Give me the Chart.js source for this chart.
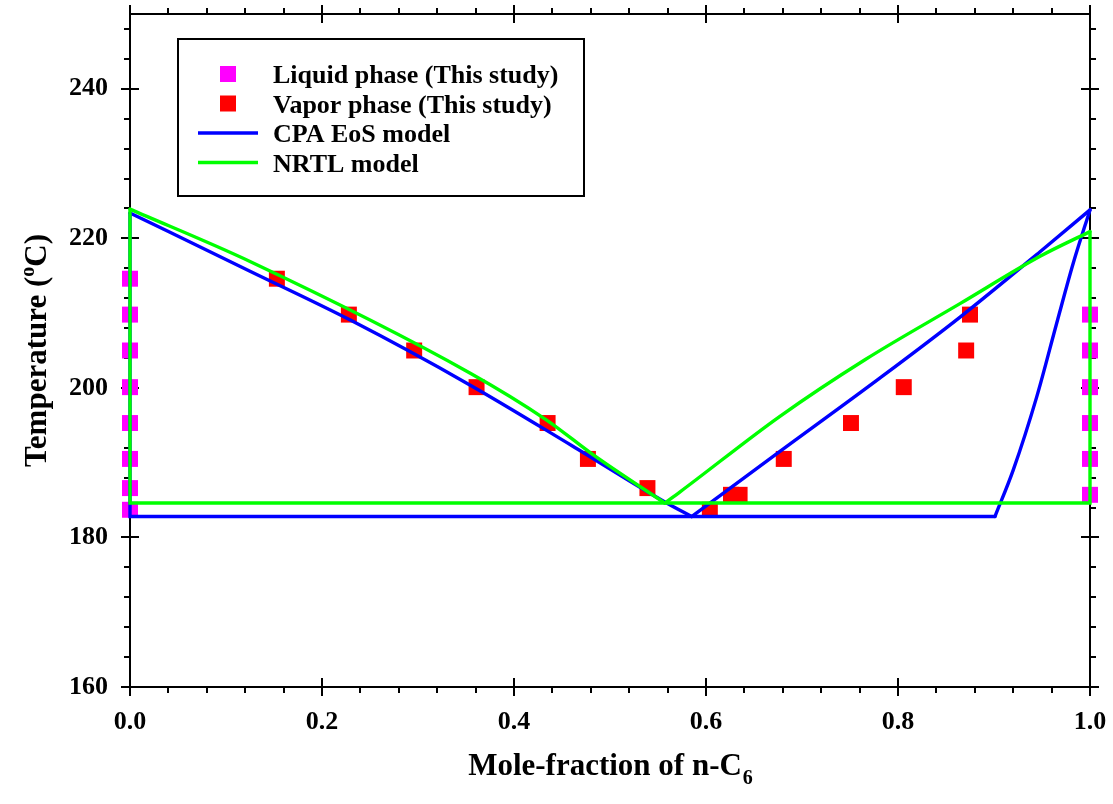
<!DOCTYPE html>
<html><head><meta charset="utf-8">
<script src="https://cdn.jsdelivr.net/npm/chart.js@4/dist/chart.umd.min.js"></script>
<style>html,body{margin:0;padding:0;background:#fff;} #wrap{width:1113px;height:804px;position:relative;}</style>
</head><body><div id="wrap"><canvas id="c"></canvas></div>
<script>
// ---- data ----
const liquidX = [0, 0, 0, 0, 0, 0, 0, 0, 1.0, 1.0, 1.0, 1.0, 1.0, 1.0];
const liquidT = [214.6, 209.8, 205.0, 200.1, 195.3, 190.5, 186.6, 183.7, 209.8, 205.0, 200.1, 195.3, 190.5, 185.7];
const vaporX = [0.153, 0.228, 0.296, 0.361, 0.435, 0.477, 0.539, 0.604, 0.626, 0.635, 0.681, 0.751, 0.806, 0.871, 0.875];
const vaporT = [214.6, 209.8, 205.0, 200.1, 195.3, 190.5, 186.6, 183.7, 185.7, 185.7, 190.5, 195.3, 200.1, 205.0, 209.8];
// CPA EoS model
const cpaEdgeX = [0.901, 0, 0];
const cpaEdgeT = [182.8, 182.8, 223.4];
const cpaLeftX = [0, 0.125, 0.229, 0.354, 0.46, 0.559, 0.585];
const cpaLeftT = [223.4, 215.6, 209.1, 200.4, 192.3, 184.6, 182.8];
const cpaRightX = [0.585, 0.677, 0.781, 0.865, 0.948, 1.0];
const cpaRightT = [182.8, 191.5, 201.3, 209.5, 218.2, 223.8];
const cpaBubbleX = [0.901, 0.920, 0.9445, 0.9653, 0.9826, 1.0];
const cpaBubbleT = [182.8, 189.0, 198.8, 208.65, 216.7, 223.8];
// NRTL model
const nrtlEdgeX = [0, 0, 1.0, 1.0];
const nrtlEdgeT = [223.9, 184.6, 184.6, 220.9];
const nrtlLeftX = [0, 0.125, 0.354, 0.434, 0.483, 0.557];
const nrtlLeftT = [223.9, 216.9, 202.0, 195.7, 191.0, 184.6];
const nrtlRightX = [0.557, 0.573, 0.677, 0.766, 0.865, 0.948, 1.0];
const nrtlRightT = [184.6, 186.1, 196.2, 203.8, 211.3, 217.6, 220.9];
const xTicks = [0, 0.2, 0.4, 0.6, 0.8, 1.0];
const yTicks = [160, 180, 200, 220, 240];
const seriesLabels = ['Liquid phase (This study)', 'Vapor phase (This study)', 'CPA EoS model', 'NRTL model'];

const pts = (xs, ys) => xs.map((x, i) => ({x: x, y: ys[i]}));
const SERIF = '"Liberation Serif", "Times New Roman", serif';
const BLUE = '#0000ff', GREEN = '#00ff00';

const axesPlugin = {
  id: 'axesBox',
  beforeDatasetsDraw(chart) {
    const {ctx, chartArea: a, scales: {x, y}} = chart;
    ctx.save();
    ctx.strokeStyle = '#000';
    ctx.lineWidth = 2;
    ctx.strokeRect(a.left, a.top, a.right - a.left, a.bottom - a.top);
    ctx.beginPath();
    for (let k = 0; k <= 25; k++) {
      const v = k * 0.04;
      const px = Math.round(x.getPixelForValue(v));
      const major = k % 5 === 0;
      if (major) {
        ctx.moveTo(px, a.bottom - 9); ctx.lineTo(px, a.bottom + 9);
        ctx.moveTo(px, a.top - 9); ctx.lineTo(px, a.top + 9);
      } else {
        ctx.moveTo(px, a.bottom); ctx.lineTo(px, a.bottom + 6);
        ctx.moveTo(px, a.top); ctx.lineTo(px, a.top - 6);
      }
    }
    for (let v = 160; v <= 250; v += 4) {
      const py = Math.round(y.getPixelForValue(v));
      const major = (v - 160) % 20 === 0;
      if (major) {
        ctx.moveTo(a.left - 9, py); ctx.lineTo(a.left + 9, py);
        ctx.moveTo(a.right - 9, py); ctx.lineTo(a.right + 9, py);
      } else {
        ctx.moveTo(a.left, py); ctx.lineTo(a.left - 6, py);
        ctx.moveTo(a.right, py); ctx.lineTo(a.right + 6, py);
      }
    }
    ctx.stroke();
    ctx.restore();
  },
  afterDraw(chart) {
    const {ctx, chartArea: a} = chart;
    ctx.save();
    ctx.fillStyle = '#000';
    const big = 'bold 31px ' + SERIF, small = 'bold 20px ' + SERIF;
    ctx.font = big;
    const t1 = 'Mole-fraction of n-C';
    const w1 = ctx.measureText(t1).width;
    ctx.font = small;
    const w2 = ctx.measureText('6').width;
    const cx = (a.left + a.right) / 2;
    let sx = cx - (w1 + w2) / 2;
    ctx.textBaseline = 'alphabetic';
    ctx.textAlign = 'left';
    ctx.font = big; ctx.fillText(t1, sx, 775);
    ctx.font = small; ctx.fillText('6', sx + w1 + 1, 784);
    ctx.translate(46, (a.top + a.bottom) / 2);
    ctx.rotate(-Math.PI / 2);
    ctx.font = big;
    const ya = 'Temperature (', yb = 'C)';
    const wa = ctx.measureText(ya).width, wb = ctx.measureText(yb).width;
    ctx.font = small;
    const wo = ctx.measureText('o').width;
    let s = -(wa + wo + wb) / 2;
    ctx.font = big; ctx.fillText(ya, s, 0);
    ctx.font = small; ctx.fillText('o', s + wa, -12);
    ctx.font = big; ctx.fillText(yb, s + wa + wo, 0);
    ctx.restore();

    ctx.save();
    const bx = 178, by = 39, bw = 406, bh = 157;
    ctx.fillStyle = '#fff';
    ctx.fillRect(bx, by, bw, bh);
    ctx.strokeStyle = '#000'; ctx.lineWidth = 2;
    ctx.strokeRect(bx, by, bw, bh);
    const rows = [74, 103.5, 133, 162.5];
    chart.data.datasets.filter(d => d.inLegend).forEach((d, i) => {
      const cy = rows[i];
      if (d.pointRadius > 0) {
        ctx.fillStyle = d.backgroundColor;
        ctx.fillRect(220, cy - 8, 16, 16);
      } else {
        ctx.strokeStyle = d.borderColor; ctx.lineWidth = 3.4;
        ctx.beginPath(); ctx.moveTo(198, cy); ctx.lineTo(258, cy); ctx.stroke();
      }
      ctx.fillStyle = '#000';
      ctx.font = 'bold 26px ' + SERIF;
      ctx.textAlign = 'left'; ctx.textBaseline = 'alphabetic';
      ctx.fillText(d.label, 273, cy + 9);
    });
    ctx.restore();
  }
};

function lineDs(label, xs, ys, color, smooth, order, inLegend) {
  return {label: label, data: pts(xs, ys), showLine: true, borderColor: color, backgroundColor: color,
    borderWidth: 3.4, pointRadius: 0, pointHoverRadius: 0, tension: smooth ? 0.4 : 0,
    cubicInterpolationMode: smooth ? 'monotone' : 'default', borderJoinStyle: 'miter', borderCapStyle: 'round',
    clip: false, order: order, inLegend: inLegend};
}

new Chart(document.getElementById('c'), {
  type: 'scatter',
  data: {
    datasets: [
      {label: seriesLabels[0], data: pts(liquidX, liquidT), pointStyle: 'rect', pointRadius: 11.3, pointHoverRadius: 11.3,
       backgroundColor: '#ff00ff', borderWidth: 0, showLine: false, clip: false, order: 4, inLegend: true},
      {label: seriesLabels[1], data: pts(vaporX, vaporT), pointStyle: 'rect', pointRadius: 11.3, pointHoverRadius: 11.3,
       backgroundColor: '#ff0000', borderWidth: 0, showLine: false, clip: false, order: 3, inLegend: true},
      lineDs(seriesLabels[2], cpaLeftX, cpaLeftT, BLUE, true, 2, true),
      lineDs(seriesLabels[3], nrtlLeftX, nrtlLeftT, GREEN, true, 1, true),
      lineDs(seriesLabels[2], cpaRightX, cpaRightT, BLUE, true, 2, false),
      lineDs(seriesLabels[2], cpaBubbleX, cpaBubbleT, BLUE, true, 2, false),
      lineDs(seriesLabels[2], cpaEdgeX, cpaEdgeT, BLUE, false, 2, false),
      lineDs(seriesLabels[3], nrtlRightX, nrtlRightT, GREEN, true, 1, false),
      lineDs(seriesLabels[3], nrtlEdgeX, nrtlEdgeT, GREEN, false, 1, false)
    ]
  },
  options: {
    responsive: true, maintainAspectRatio: false, animation: false,
    layout: {padding: {top: 14, right: 23, left: 0, bottom: 0}},
    plugins: {legend: {display: false}, tooltip: {enabled: false}},
    scales: {
      x: {
        type: 'linear', min: 0, max: 1,
        afterBuildTicks: s => { s.ticks = xTicks.map(v => ({value: v})); },
        afterFit: s => { s.height = 117; s.paddingLeft = 0; s.paddingRight = 0; },
        grid: {display: false, drawTicks: false}, border: {display: false},
        ticks: {padding: 20, color: '#000', font: {family: SERIF, size: 26, weight: 'bold'},
                callback: v => Number(v).toFixed(1), maxRotation: 0, autoSkip: false}
      },
      y: {
        type: 'linear', min: 160, max: 250,
        afterBuildTicks: s => { s.ticks = yTicks.map(v => ({value: v})); },
        afterFit: s => { s.width = 130; s.paddingTop = 0; s.paddingBottom = 0; },
        grid: {display: false, drawTicks: false}, border: {display: false},
        ticks: {padding: 22, color: '#000', font: {family: SERIF, size: 26, weight: 'bold'}, autoSkip: false}
      }
    }
  },
  plugins: [axesPlugin]
});
</script>
</body></html>
